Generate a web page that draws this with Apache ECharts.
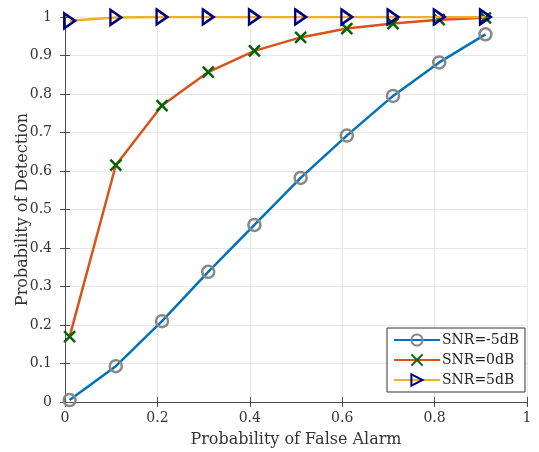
<!DOCTYPE html>
<html><head><meta charset="utf-8">
<script src="https://cdn.jsdelivr.net/npm/echarts@6/dist/echarts.min.js"></script>
<style>html,body{margin:0;padding:0;background:#fff}#c{width:539px;height:452px}</style>
</head><body><div id="c"></div>
<script>
const pfa = [0.01, 0.11, 0.21, 0.31, 0.41, 0.51, 0.61, 0.71, 0.81, 0.91];
const pdM5 = [0.005, 0.093, 0.21, 0.338, 0.46, 0.582, 0.692, 0.795, 0.882, 0.955];
const pd0 = [0.17, 0.615, 0.77, 0.857, 0.912, 0.947, 0.97, 0.983, 0.993, 0.998];
const pd5 = [0.99, 0.999, 1, 1, 1, 1, 1, 1, 1, 1];
const names = ['SNR=-5dB', 'SNR=0dB', 'SNR=5dB'];
const xLabels = ['0', '0.2', '0.4', '0.6', '0.8', '1'];
const yLabels = ['0', '0.1', '0.2', '0.3', '0.4', '0.5', '0.6', '0.7', '0.8', '0.9', '1'];

const FONT = 'DejaVu Serif';
const AX = '#4d4d4d';
const chart = echarts.init(document.getElementById('c'), null, {renderer: 'canvas'});
const pair = (ys) => pfa.map((x, i) => [x, ys[i]]);
const xSym = 'path://M0,0L10,10M10,0L0,10';
const triSym = 'path://M0,0L10,6L0,12Z';

const baseX = {
  type: 'value', min: 0, max: 1, interval: 0.2,
  axisLine: {show: true, lineStyle: {color: AX, width: 1}},
  axisTick: {show: true, inside: true, length: 5, lineStyle: {color: AX}},
};
const baseY = {
  type: 'value', min: 0, max: 1, interval: 0.1,
  axisLine: {show: true, lineStyle: {color: AX, width: 1}},
  axisTick: {show: true, inside: true, length: 5, lineStyle: {color: AX}},
};

chart.setOption({
  animation: false,
  backgroundColor: '#fff',
  textStyle: {fontFamily: FONT},
  grid: {left: 65, right: 12, top: 17, bottom: 50, containLabel: false, outerBoundsMode: 'none'},
  legend: {
    right: 14, bottom: 60, orient: 'vertical',
    backgroundColor: '#fff', borderColor: '#333', borderWidth: 1,
    padding: [5, 6, 5, 6], itemGap: 6, itemWidth: 46, itemHeight: 14,
    textStyle: {fontFamily: FONT, fontSize: 14, color: '#222', padding: [0, 0, 0, -3]},
    data: names
  },
  xAxis: [
    Object.assign({}, baseX, {
      position: 'bottom',
      name: 'Probability of False Alarm', nameLocation: 'middle', nameGap: 30,
      nameMoveOverlap: false,
      nameTextStyle: {fontFamily: FONT, fontSize: 16, color: '#333'},
      splitLine: {show: true, lineStyle: {color: '#e6e6e6', width: 1}},
      axisLabel: {fontFamily: FONT, fontSize: 14, color: '#333', margin: 9,
        formatter: v => xLabels[Math.round(v / 0.2)]}
    }),
    Object.assign({}, baseX, {position: 'top', axisLabel: {show: false}, splitLine: {show: false}})
  ],
  yAxis: [
    Object.assign({}, baseY, {
      position: 'left',
      name: 'Probability of Detection', nameLocation: 'middle', nameGap: 34,
      nameMoveOverlap: false,
      nameTextStyle: {fontFamily: FONT, fontSize: 16, color: '#333'},
      splitLine: {show: true, lineStyle: {color: '#e6e6e6', width: 1}},
      axisLabel: {fontFamily: FONT, fontSize: 14, color: '#333', margin: 13,
        formatter: v => yLabels[Math.round(v / 0.1)]}
    }),
    Object.assign({}, baseY, {position: 'right', axisLabel: {show: false}, splitLine: {show: false}})
  ],
  series: [
    {
      name: names[0], type: 'line', data: pair(pdM5), z: 3,
      lineStyle: {color: '#0072BD', width: 2.5},
      symbol: 'circle', symbolSize: 12,
      itemStyle: {color: 'rgba(255,255,255,0)', borderColor: '#888888', borderWidth: 2.5},
      color: '#0072BD'
    },
    {
      name: names[1], type: 'line', data: pair(pd0), z: 4,
      lineStyle: {color: '#D95319', width: 2.5},
      symbol: xSym, symbolSize: 11,
      itemStyle: {color: 'rgba(0,0,0,0)', borderColor: '#006400', borderWidth: 2.5},
      color: '#D95319'
    },
    {
      name: names[2], type: 'line', data: pair(pd5), z: 5,
      lineStyle: {color: '#EDB120', width: 2.5},
      symbol: triSym, symbolSize: [13, 15], symbolKeepAspect: true,
      itemStyle: {color: 'rgba(0,0,0,0)', borderColor: '#000080', borderWidth: 2.5},
      color: '#EDB120'
    }
  ]
});
</script></body></html>
